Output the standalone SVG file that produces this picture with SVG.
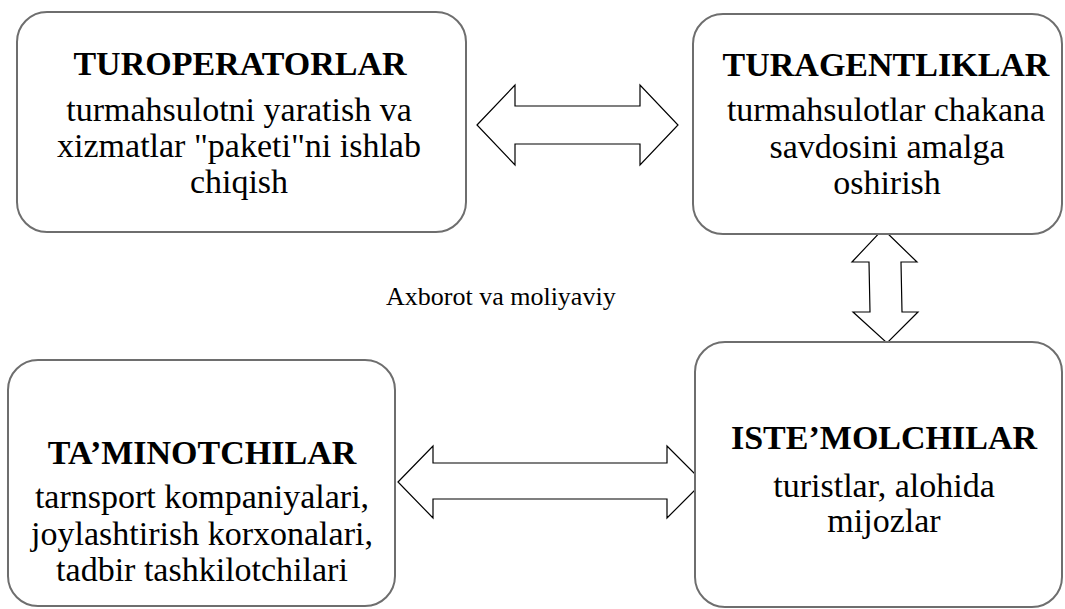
<svg xmlns="http://www.w3.org/2000/svg" width="1065" height="609" viewBox="0 0 1065 609">
<style>
.box{fill:#fff;stroke:#6e6e6e;stroke-width:2}
.arr{fill:#fff;stroke:#000;stroke-width:1.2;stroke-linejoin:miter}
</style>
<rect width="1065" height="609" fill="#fff"/>
<g id="connectors">
<polygon class="arr" points="477,125 515,85 515,106 640,106 640,85 678,125 640,165 640,144 515,144 515,165"/>
<polygon class="arr" points="883,229 917,262 901,262 902,312 918,312 887,343 853,312 870,312 869,262 852,262"/>
<polygon class="arr" points="398,482 433,446 433,463 667,463 667,446 703,482 667,518 667,499 433,499 433,518"/>
</g>
<g id="turoperatorlar" font-family="Liberation Serif" font-size="34" text-anchor="middle" fill="#000">
<rect class="box" x="17" y="12" width="449" height="220" rx="30"/>
<text x="240" y="75" font-weight="bold">TUROPERATORLAR</text>
<text x="239" y="121">turmahsulotni yaratish va</text>
<text x="239" y="157">xizmatlar "paketi"ni ishlab</text>
<text x="239" y="193">chiqish</text>
</g>
<g id="turagentliklar" font-family="Liberation Serif" font-size="34" text-anchor="middle" fill="#000">
<rect class="box" x="693" y="14" width="369" height="220" rx="30"/>
<text x="886" y="76" font-weight="bold">TURAGENTLIKLAR</text>
<text x="886" y="121">turmahsulotlar chakana</text>
<text x="887" y="158">savdosini amalga</text>
<text x="887" y="194">oshirish</text>
</g>
<g id="taminotchilar" font-family="Liberation Serif" font-size="34" text-anchor="middle" fill="#000">
<rect class="box" x="8" y="360" width="387" height="246" rx="30"/>
<text x="202" y="464" font-weight="bold">TA’MINOTCHILAR</text>
<text x="202" y="508">tarnsport kompaniyalari,</text>
<text x="202" y="545">joylashtirish korxonalari,</text>
<text x="202" y="581">tadbir tashkilotchilari</text>
</g>
<g id="istemolchilar" font-family="Liberation Serif" font-size="34" text-anchor="middle" fill="#000">
<rect class="box" x="695" y="342" width="367" height="265" rx="30"/>
<text x="884" y="449" font-weight="bold">ISTE’MOLCHILAR</text>
<text x="884" y="497">turistlar, alohida</text>
<text x="884" y="532">mijozlar</text>
</g>
<text x="386" y="305" font-family="Liberation Serif" font-size="26" fill="#000">Axborot va moliyaviy</text>
</svg>
